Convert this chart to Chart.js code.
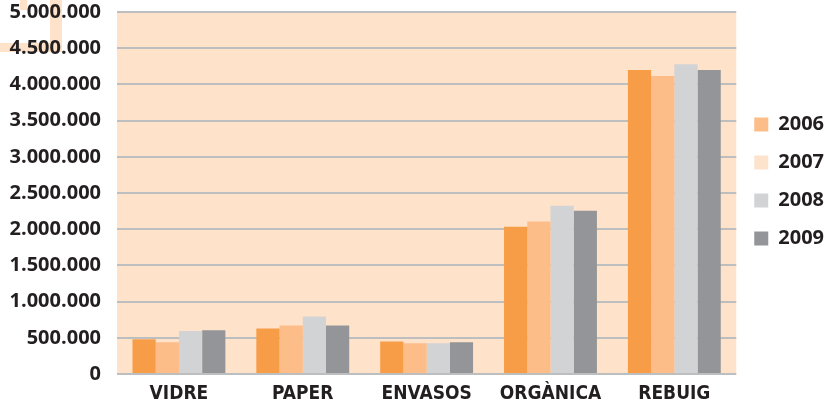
<!DOCTYPE html>
<html>
<head>
<meta charset="utf-8">
<script src="https://cdn.jsdelivr.net/npm/chart.js@4/dist/chart.umd.min.js"></script>
<style>
  html, body { margin: 0; padding: 0; background: #fff; }
  #wrap { width: 834px; height: 411px; }
</style>
</head>
<body>
<div id="wrap"><canvas id="residusChart"></canvas></div>
<script>
const categories = ['VIDRE', 'PAPER', 'ENVASOS', 'ORGÀNICA', 'REBUIG'];
const years = ['2006', '2007', '2008', '2009'];
const values2006 = [480000, 630000, 450000, 2035000, 4200000];
const values2007 = [440000, 670000, 425000, 2105000, 4115000];
const values2008 = [595000, 795000, 425000, 2325000, 4280000];
const values2009 = [605000, 670000, 440000, 2255000, 4200000];
const yTicks = [0, 500000, 1000000, 1500000, 2000000, 2500000, 3000000, 3500000, 4000000, 4500000, 5000000];

const barColors = ['#f79d48', '#fcbd88', '#d1d3d4', '#939598'];
const legendColors = ['#fcbd88', '#fde3cb', '#d1d3d4', '#939598'];

const series = [values2006, values2007, values2008, values2009];

function formatThousands(v) {
     return String(v).replace(/\B(?=(\d{3})+(?!\d))/g, '.');
}

// light orange plot background plus the corner shape of the page
const plotBackground = {
     id: 'plotBackground',
     beforeDraw(chart) {
          const { ctx, chartArea } = chart;
          ctx.save();
          ctx.fillStyle = '#fee3ca';
          ctx.fillRect(chartArea.left, chartArea.top, chartArea.right - chartArea.left, chartArea.bottom - chartArea.top);
          ctx.fillRect(50, 0, 12, 52);
          ctx.fillRect(0, 43, 62, 9);
          ctx.fillRect(20, 0, 7, 10);
          ctx.restore();
     }
};

new Chart(document.getElementById('residusChart'), {
     type: 'bar',
     data: {
          labels: categories,
          datasets: years.map((y, i) => ({
               label: y,
               data: series[i],
               backgroundColor: barColors[i],
               borderWidth: 0,
               categoryPercentage: 0.75,
               barPercentage: 1.0
          }))
     },
     options: {
          responsive: true,
          maintainAspectRatio: false,
          animation: false,
          layout: { padding: { top: 0, left: 0, right: 0, bottom: 0 } },
          plugins: {
               tooltip: { enabled: false },
               legend: {
                    position: 'right',
                    align: 'start',
                    title: { display: true, text: '', padding: { top: 82, bottom: 0 } },
                    labels: {
                         boxWidth: 14,
                         boxHeight: 14,
                         padding: 18,
                         color: '#231f20',
                         font: { family: 'Open Sans', weight: 'bold', size: 20 },
                         generateLabels(chart) {
                              return chart.data.datasets.map((ds, i) => ({
                                   text: ds.label,
                                   fillStyle: legendColors[i],
                                   strokeStyle: legendColors[i],
                                   fontColor: '#231f20',
                                   lineWidth: 0,
                                   datasetIndex: i
                              }));
                         }
                    }
               }
          },
          scales: {
               x: {
                    afterFit(scale) {
                         scale.height = 37;
                    },
                    grid: { display: false, drawTicks: false, tickLength: 0 },
                    border: { display: false },
                    ticks: {
                         color: '#231f20',
                         padding: 9,
                         font: { family: 'DejaVu Sans Condensed', weight: 'bold', size: 19 }
                    }
               },
               y: {
                    min: 0,
                    max: 5000000,
                    afterBuildTicks(scale) {
                         scale.ticks = yTicks.map(v => ({ value: v }));
                    },
                    afterFit(scale) {
                         scale.width = 117;
                    },
                    // invisible tick marks keep the labels clear of the plot
                    grid: { color: '#bcbec0', lineWidth: 2, drawTicks: true, tickLength: 16, tickColor: 'rgba(0,0,0,0)' },
                    border: { display: false },
                    ticks: {
                         color: '#231f20',
                         padding: 0,
                         font: { family: 'Open Sans', weight: 'bold', size: 20 },
                         callback: v => formatThousands(v)
                    }
               }
          }
     },
     plugins: [plotBackground]
});
</script>
</body>
</html>
